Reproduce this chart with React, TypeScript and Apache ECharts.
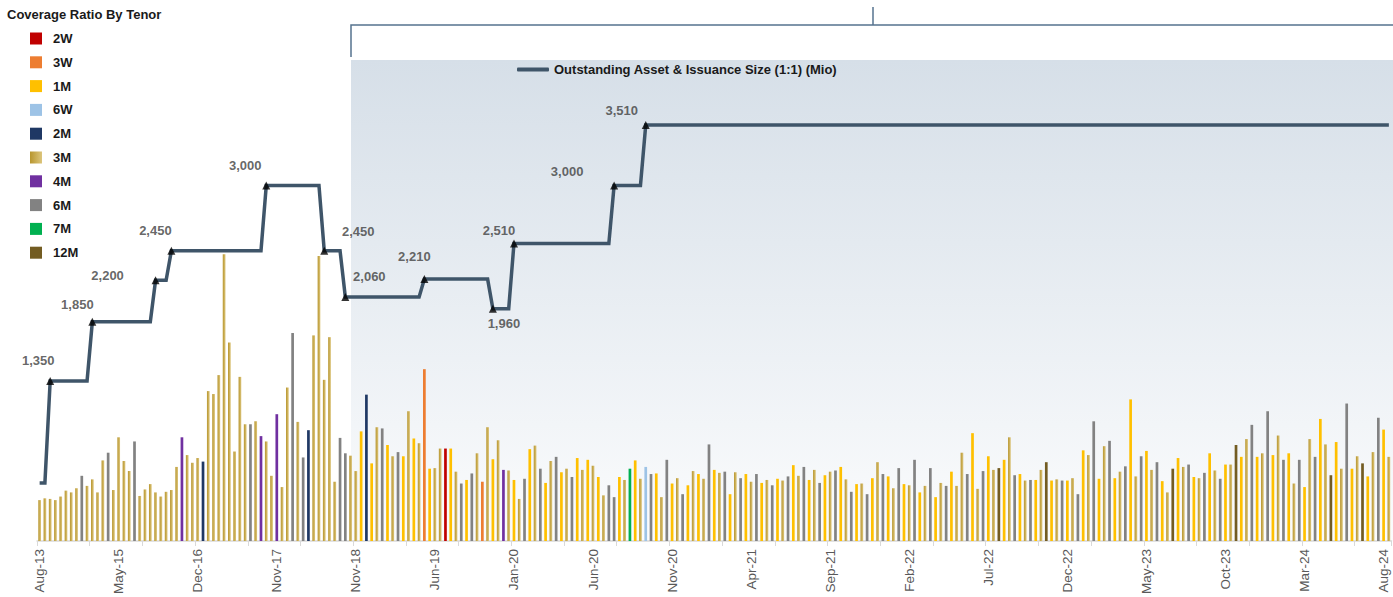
import React, { useEffect, useRef } from "react";
import * as echarts from "echarts";

// ---------- DATA ----------
const tenors = ["2W", "3W", "1M", "6W", "2M", "3M", "4M", "6M", "7M", "12M"];

const xTickLabels = [
  "Aug-13", "May-15", "Dec-16", "Nov-17", "Nov-18", "Jun-19", "Jan-20", "Jun-20", "Nov-20",
  "Apr-21", "Sep-21", "Feb-22", "Jul-22", "Dec-22", "May-23", "Oct-23", "Mar-24", "Aug-24",
];

// coverage ratio per auction (in auction order)
const coverageRatios = [
  0.69, 0.72, 0.71, 0.69, 0.75, 0.85, 0.82, 0.89, 1.10, 0.93,
  1.04, 0.82, 1.36, 1.49, 0.86, 1.75, 1.35, 1.18, 1.68, 0.76,
  0.87, 0.96, 0.82, 0.75, 0.83, 0.86, 1.25, 1.75, 1.45, 1.32,
  1.40, 1.34, 2.53, 2.48, 2.80, 4.84, 3.35, 1.51, 2.77, 1.97,
  1.97, 2.02, 1.77, 1.68, 1.10, 2.14, 0.91, 2.59, 3.51, 2.01,
  1.41, 1.87, 3.47, 4.81, 2.72, 3.44, 1.00, 1.74, 1.48, 1.44,
  1.18, 1.85, 2.47, 1.31, 1.92, 1.90, 1.62, 1.43, 1.50, 1.43,
  2.19, 1.73, 1.65, 2.90, 1.22, 1.23, 1.56, 1.56, 1.56, 1.17,
  0.97, 1.03, 1.14, 1.48, 1.00, 1.92, 1.38, 1.70, 1.20, 1.19,
  1.03, 0.71, 1.05, 1.55, 1.61, 1.22, 0.98, 1.35, 1.42, 1.16,
  1.22, 1.08, 1.40, 1.20, 1.37, 1.27, 1.08, 0.77, 0.94, 0.74,
  1.08, 1.03, 1.22, 1.36, 1.05, 1.25, 1.13, 1.14, 0.74, 1.37,
  0.97, 1.06, 0.79, 0.94, 1.18, 1.13, 1.05, 1.63, 1.20, 1.15,
  1.17, 0.79, 1.16, 1.06, 1.13, 1.00, 1.13, 0.98, 1.03, 0.94,
  1.05, 1.02, 1.09, 1.28, 1.10, 1.25, 1.03, 1.20, 0.98, 1.11,
  1.17, 1.19, 1.25, 1.04, 0.83, 0.96, 0.97, 0.79, 1.06, 1.33,
  1.13, 1.09, 0.89, 1.23, 0.96, 0.94, 1.37, 0.82, 0.93, 1.23,
  0.74, 0.98, 0.93, 1.17, 0.93, 1.49, 1.13, 1.82, 0.88, 1.18,
  1.43, 1.20, 1.23, 1.37, 1.75, 1.11, 1.13, 1.02, 1.03, 1.03,
  1.20, 1.33, 1.02, 1.04, 1.02, 1.02, 1.06, 0.79, 1.53, 1.45,
  2.02, 1.05, 1.60, 1.69, 1.06, 1.17, 1.26, 2.39, 1.09, 1.43,
  1.52, 1.20, 1.33, 1.01, 0.82, 1.22, 1.40, 1.25, 1.29, 1.08,
  1.06, 1.15, 1.48, 1.19, 1.05, 1.29, 1.29, 1.62, 1.42, 1.72,
  1.96, 1.42, 1.48, 2.19, 1.45, 1.78, 1.37, 1.48, 0.97, 1.37,
  0.91, 1.72, 1.42, 2.06, 1.63, 1.11, 1.67, 1.22, 2.32, 1.22,
  1.43, 1.31, 1.09, 1.50, 2.08, 1.88, 1.42,
];

// tenor of each auction
const auctionTenors = [
  "3M", "3M", "3M", "3M", "3M", "3M", "3M", "3M", "6M", "3M",
  "3M", "3M", "3M", "6M", "3M", "3M", "3M", "3M", "6M", "3M",
  "3M", "3M", "3M", "3M", "3M", "3M", "3M", "4M", "3M", "3M",
  "3M", "2M", "3M", "3M", "3M", "3M", "3M", "3M", "3M", "3M",
  "6M", "3M", "4M", "3M", "3M", "4M", "3M", "3M", "6M", "3M",
  "6M", "2M", "3M", "3M", "3M", "3M", "3M", "6M", "6M", "3M",
  "3M", "1M", "2M", "1M", "3M", "6M", "1M", "3M", "6M", "1M",
  "3M", "1M", "3M", "3W", "1M", "3M", "3M", "2W", "1M", "3M",
  "6M", "1M", "6M", "3M", "3W", "3M", "1M", "3M", "4M", "3M",
  "1M", "3M", "6M", "1M", "3M", "6M", "1M", "3M", "6M", "1M",
  "3M", "6M", "1M", "3M", "1M", "3M", "1M", "3M", "6M", "6M",
  "1M", "3M", "7M", "1M", "3M", "6W", "6M", "1M", "3M", "6M",
  "1M", "3M", "6M", "1M", "3M", "1M", "3M", "6M", "1M", "3M",
  "6M", "1M", "3M", "6M", "1M", "3M", "6M", "1M", "3M", "6M",
  "1M", "3M", "6M", "1M", "3M", "6M", "1M", "3M", "6M", "1M",
  "3M", "6M", "1M", "3M", "6M", "1M", "3M", "6M", "1M", "3M",
  "6M", "1M", "3M", "6M", "1M", "3M", "6M", "1M", "3M", "6M",
  "1M", "3M", "6M", "1M", "3M", "3M", "6M", "1M", "3M", "6M",
  "1M", "3M", "12M", "1M", "3M", "6M", "1M", "3M", "6M", "1M",
  "3M", "12M", "1M", "3M", "6M", "1M", "3M", "6M", "1M", "3M",
  "6M", "1M", "3M", "6M", "1M", "3M", "6M", "1M", "3M", "6M",
  "1M", "3M", "6M", "1M", "3M", "12M", "1M", "3M", "6M", "1M",
  "3M", "6M", "1M", "3M", "6M", "1M", "3M", "12M", "1M", "3M",
  "6M", "1M", "3M", "6M", "1M", "3M", "6M", "1M", "3M", "6M",
  "1M", "3M", "6M", "1M", "3M", "12M", "1M", "3M", "6M", "1M",
  "3M", "12M", "1M", "3M", "6M", "1M", "3M",
];

// outstanding size steps: [auction index where the new level starts, size in Mio]
const sizeStepStarts = [0, 2, 10, 22, 25, 43, 54, 58, 73, 86, 90, 109, 115];
const sizeStepValues = [490, 1350, 1850, 2200, 2450, 3000, 2450, 2060, 2210, 1960, 2510, 3000, 3510];

// ---------- STYLE ----------
const FONT = "'Liberation Sans', Arial, sans-serif";
const gold3M = {
  type: "linear", x: 0, y: 0, x2: 1, y2: 0,
  colorStops: [
    { offset: 0, color: "#B8962E" },
    { offset: 1, color: "#DCC57C" },
  ],
};
const tenorColors: Record<string, any> = {
  "2W": "#C00000",
  "3W": "#ED7D31",
  "1M": "#FFC000",
  "6W": "#9DC3E6",
  "2M": "#1F3864",
  "3M": gold3M,
  "4M": "#7030A0",
  "6M": "#828282",
  "7M": "#00B050",
  "12M": "#735C22",
};
// label offsets (dx, dy) for step labels, skipping the first level
const stepLabelOffsets = [
  [-12, -21], [-15, -17], [-48, -5], [-16, -20], [-21, -20], [34, -19],
  [24, -20], [-10, -23], [11, 15], [-15, -13], [-47, -14], [-24, -15],
];
const LINE_NAME = "Outstanding Asset & Issuance Size (1:1) (Mio)";
const LINE_COLOR = "#3F5569";

export default function App() {
  const ref = useRef<HTMLDivElement>(null);
  useEffect(() => {
    if (!ref.current) return;
    const chart = echarts.init(ref.current, undefined, { renderer: "svg" });

    const categories = coverageRatios.map((_, i) => String(i + 1));

    const barSeries = tenors.map((t) => ({
      name: t,
      type: "bar",
      xAxisIndex: 0,
      yAxisIndex: 0,
      barWidth: 2.7,
      barGap: "-100%",
      itemStyle: { color: tenorColors[t] },
      data: coverageRatios.map((v, i) => (auctionTenors[i] === t ? v : "-")),
      z: 3,
    }));

    const lineValues = coverageRatios.map((_, i) => {
      let v = sizeStepValues[0];
      sizeStepStarts.forEach((s, k) => {
        if (i >= s) v = sizeStepValues[k];
      });
      return v;
    });

    const stepPoints = sizeStepStarts.slice(1).map((s, k) => ({
      value: [s, sizeStepValues[k + 1]],
      label: { offset: stepLabelOffsets[k] },
    }));

    const option: any = {
      animation: false,
      backgroundColor: "#ffffff",
      textStyle: { fontFamily: FONT },
      title: {
        text: "Coverage Ratio By Tenor",
        left: 7,
        top: 8,
        padding: 0,
        textStyle: { fontSize: 13, fontWeight: "bold", color: "#1a1a1a", fontFamily: FONT },
      },
      legend: [
        {
          data: tenors,
          orient: "vertical",
          left: 30,
          top: 32,
          padding: 0,
          itemWidth: 12,
          itemHeight: 12,
          itemGap: 10.8,
          icon: "rect",
          selectedMode: false,
          textStyle: {
            fontSize: 13, fontWeight: "bold", color: "#1a1a1a", fontFamily: FONT,
            padding: [0, 0, 0, 6],
          },
        },
        {
          data: [LINE_NAME],
          left: 517,
          top: 63,
          padding: 0,
          itemWidth: 32,
          itemHeight: 4,
          icon: "roundRect",
          selectedMode: false,
          textStyle: { fontSize: 13, fontWeight: "bold", color: "#1a1a1a", fontFamily: FONT },
        },
      ],
      grid: { left: 37, right: 1.5, top: 67, bottom: 56, containLabel: false },
      xAxis: {
        type: "category",
        data: categories,
        boundaryGap: true,
        axisLine: { show: true, lineStyle: { color: "#d9d9d9", width: 1.5 } },
        axisTick: { show: true, interval: 9, length: 5, lineStyle: { color: "#d9d9d9" } },
        axisLabel: {
          interval: 14,
          rotate: 90,
          margin: 8,
          fontSize: 13.5,
          color: "#595959",
          fontFamily: FONT,
          formatter: (_v: string, idx: number) =>
            idx % 15 === 0 && xTickLabels[idx / 15] ? xTickLabels[idx / 15] : "",
        },
        splitLine: { show: false },
      },
      yAxis: [
        { type: "value", min: 0, max: 8, show: false, splitLine: { show: false } },
        { type: "value", min: 0, max: 4000, show: false, splitLine: { show: false } },
      ],
      graphic: [
        {
          type: "rect",
          z: 0,
          silent: true,
          shape: { x: 351, y: 60, width: 1042, height: 481 },
          style: {
            fill: {
              type: "linear", x: 0, y: 0, x2: 0, y2: 1,
              colorStops: [
                { offset: 0, color: "#d6dfe8" },
                { offset: 1, color: "#fbfcfd" },
              ],
            },
          },
        },
        {
          type: "polyline",
          z: 0,
          silent: true,
          shape: { points: [[351, 57], [351, 25], [1393, 25]] },
          style: { stroke: "#56738f", lineWidth: 1.5, fill: null },
        },
        {
          type: "line",
          z: 0,
          silent: true,
          shape: { x1: 873, y1: 7, x2: 873, y2: 25 },
          style: { stroke: "#56738f", lineWidth: 1.5 },
        },
      ],
      series: [
        ...barSeries,
        {
          name: LINE_NAME,
          type: "line",
          xAxisIndex: 0,
          yAxisIndex: 1,
          data: lineValues,
          symbol: "none",
          showSymbol: false,
          itemStyle: { color: LINE_COLOR },
          lineStyle: { color: LINE_COLOR, width: 3.5, join: "miter" },
          z: 5,
        },
        {
          name: "steps",
          type: "scatter",
          xAxisIndex: 0,
          yAxisIndex: 1,
          data: stepPoints,
          symbol: "triangle",
          symbolSize: [8, 8],
          itemStyle: { color: "#000000" },
          label: {
            show: true,
            position: "inside",
            formatter: (p: any) => Number(p.value[1]).toLocaleString("en-US"),
            fontSize: 13,
            fontWeight: "bold",
            color: "#404040",
            fontFamily: FONT,
          },
          z: 6,
        },
      ],
    };

    chart.setOption(option);
    return () => chart.dispose();
  }, []);

  return (
    <div
      ref={ref}
      style={{ position: "fixed", left: 0, top: 0, width: 1393, height: 597 }}
    />
  );
}
